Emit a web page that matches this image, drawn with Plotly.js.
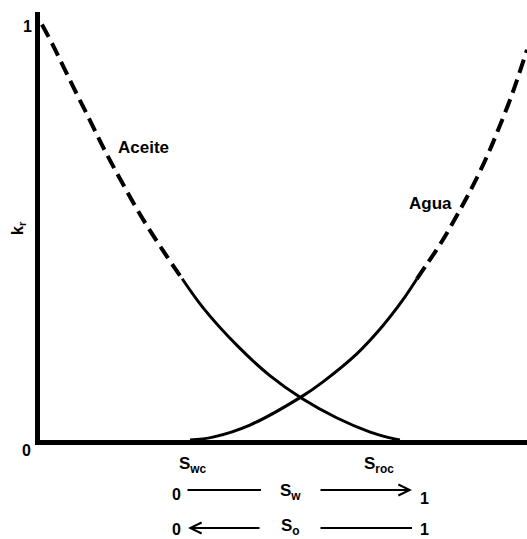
<!DOCTYPE html>
<html>
<head>
<meta charset="utf-8">
<script src="https://cdn.plot.ly/plotly-3.0.1.min.js"></script>
<style>
    html, body { margin: 0; padding: 0; background: #fff; }
    #chart { width: 527px; height: 539px; }
</style>
</head>
<body>
<div id="chart"></div>
<script>
// oil relative permeability, dashed part then solid part
const oilSwDash = [0.004, 0.027, 0.066, 0.101, 0.133, 0.166, 0.209, 0.253, 0.292];
const oilKrDash = [1.000, 0.949, 0.855, 0.773, 0.697, 0.625, 0.536, 0.455, 0.388];
const oilSwSolid = [0.292, 0.335, 0.405, 0.472, 0.538, 0.610, 0.678, 0.719, 0.739];
const oilKrSolid = [0.388, 0.318, 0.227, 0.155, 0.100, 0.053, 0.019, 0.005, 0.000];

// water relative permeability, solid part then dashed part
const waterSwSolid = [0.308, 0.355, 0.431, 0.538, 0.581, 0.651, 0.704, 0.745, 0.774];
const waterKrSolid = [0.000, 0.007, 0.036, 0.105, 0.140, 0.208, 0.275, 0.337, 0.388];
const waterSwDash = [0.774, 0.795, 0.828, 0.862, 0.889, 0.918, 0.940, 0.969, 1.000];
const waterKrDash = [0.388, 0.424, 0.483, 0.553, 0.612, 0.683, 0.744, 0.831, 0.939];

const endPointLabels = ['S<sub>wc</sub>', 'S<sub>roc</sub>'];
const endPointPos = [0.314, 0.696];

const FONT = 'Arial, "Liberation Sans", sans-serif';

const curve = (x, y, dashed) => ({
    x, y,
    type: 'scatter',
    mode: 'lines',
    line: {
        shape: 'spline',
        smoothing: 1,
        width: dashed ? 4 : 3,
        color: '#000',
        dash: dashed ? '14px,7px' : 'solid'
    },
    hoverinfo: 'skip',
    showlegend: false
});

const traces = [
    curve(oilSwDash, oilKrDash, true),
    curve(oilSwSolid, oilKrSolid, false),
    curve(waterSwSolid, waterKrSolid, false),
    curve(waterSwDash, waterKrDash, true)
];

const txt = (text, x, y, size, extra = {}) => Object.assign({
    text, x, y,
    xref: 'paper', yref: 'paper',
    showarrow: false,
    font: { family: FONT, size, color: '#000', weight: 'bold' },
    xanchor: 'center', yanchor: 'middle'
}, extra);

// plain line or arrow drawn by an annotation, head at (x, y)
const arrowLine = (x, y, ax, head) => ({
    text: '', x, y,
    xref: 'paper', yref: 'paper',
    showarrow: true,
    ax, ay: 0,
    arrowhead: head ? 5 : 0,
    arrowsize: 1.1,
    arrowwidth: 2,
    arrowcolor: '#000',
    standoff: 0,
    startstandoff: 0
});

// pixel helpers relative to the plot area (left 40, bottom 440, height 428, width 487)
const px = (p) => (p - 40) / 487;
const py = (p) => (440 - p) / 428;

const annotations = [
    txt('Aceite', 0.2135, 0.704, 17, { xref: 'x', yref: 'y' }),
    txt('Agua', 0.801, 0.570, 17, { xref: 'x', yref: 'y' }),
    txt('1', px(27), py(27), 16),
    txt('0', px(26), py(450), 16),
    txt('k<sub>r</sub>', px(18), py(228), 16, { textangle: -90 }),
    txt(endPointLabels[0], endPointPos[0], py(465), 17, { xref: 'x' }),
    txt(endPointLabels[1], endPointPos[1], py(465), 17, { xref: 'x' }),
    // Sw row
    txt('0', px(176), py(495), 16),
    arrowLine(px(261), py(490), -75, false),
    txt('S<sub>w</sub>', px(290), py(492), 17),
    arrowLine(px(412), py(490), -93, true),
    txt('1', px(424), py(498), 16),
    // So row
    txt('0', px(176), py(529), 16),
    arrowLine(px(188), py(528), 73, true),
    txt('S<sub>o</sub>', px(290), py(527), 17),
    arrowLine(px(412), py(528), -93, false),
    txt('1', px(424), py(529), 16)
];

const layout = {
    width: 527,
    height: 539,
    margin: { l: 40, r: 0, t: 12, b: 99 },
    paper_bgcolor: '#fff',
    plot_bgcolor: '#fff',
    showlegend: false,
    xaxis: {
        range: [0, 1],
        showline: true, linewidth: 5, linecolor: '#000',
        showgrid: false, zeroline: false,
        showticklabels: false, ticks: '',
        fixedrange: true
    },
    yaxis: {
        range: [0, 1.03],
        showline: true, linewidth: 5, linecolor: '#000',
        showgrid: false, zeroline: false,
        showticklabels: false, ticks: '',
        fixedrange: true
    },
    annotations
};

Plotly.newPlot('chart', traces, layout, { displayModeBar: false, staticPlot: true });
</script>
</body>
</html>
